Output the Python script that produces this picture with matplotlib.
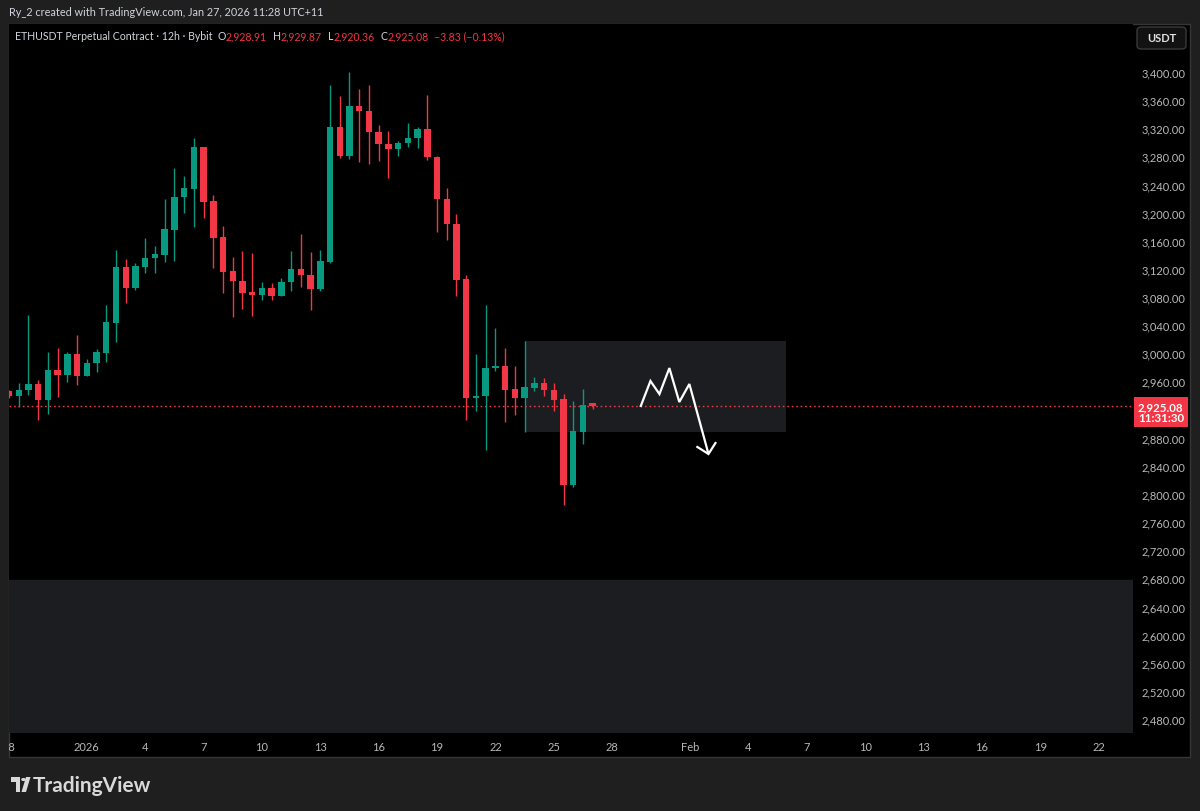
# ETHUSDT 12h (Bybit) - recreación de la captura de TradingView
import pandas as pd
import matplotlib
matplotlib.use('Agg')
import matplotlib.pyplot as plt
from matplotlib.patches import Rectangle, FancyBboxPatch, Polygon, Circle
from matplotlib.transforms import Bbox

plt.rcParams['font.family'] = ['Lato', 'DejaVu Sans']

W, H = 1200, 812

# Datos: velas de 12h (desde el 28 dic 2025)
fechas = pd.date_range('2025-12-28 00:00', periods=61, freq='12h')
apertura = [2946, 2939, 2948, 2956, 2934, 2976, 2969, 2999, 2968, 2986,
            3001, 3043, 3123, 3093, 3123, 3135, 3140, 3176, 3222, 3234,
            3293, 3216, 3165, 3117, 3103, 3087, 3083, 3093, 3082, 3101,
            3120, 3111, 3091, 3130, 3322, 3281, 3352, 3345, 3315, 3298,
            3290, 3299, 3306, 3319, 3279, 3220, 3184, 3105, 2936, 2939,
            2979, 2982, 2949, 2936, 2951, 2958, 2948, 2935, 2813, 2888, 2928.91]
maximo = [2948, 2958, 3054, 2962, 3002, 3007, 3002, 3026, 2992, 3006,
          3069, 3147, 3134, 3128, 3164, 3153, 3219, 3263, 3252, 3306,
          3294, 3225, 3181, 3137, 3145, 3143, 3101, 3100, 3107, 3145,
          3170, 3144, 3147, 3381, 3366, 3400, 3376, 3381, 3325, 3316,
          3302, 3327, 3322, 3367, 3281, 3235, 3198, 3111, 2999, 3069,
          3036, 3007, 2982, 3018, 2966, 2965, 2958, 2942, 2932, 2949, 2929.87]
minimo = [2937, 2924, 2941, 2905, 2914, 2938, 2959, 2955, 2967, 2973,
          2988, 3016, 3071, 3090, 3114, 3114, 3130, 3131, 3199, 3180,
          3192, 3121, 3086, 3052, 3063, 3053, 3076, 3076, 3081, 3089,
          3094, 3062, 3089, 3129, 3278, 3276, 3272, 3269, 3273, 3249,
          3281, 3293, 3292, 3275, 3172, 3161, 3081, 2905, 2918, 2862,
          2975, 2902, 2912, 2888, 2946, 2939, 2918, 2784, 2810, 2871, 2920.36]
cierre = [2939, 2948, 2956, 2934, 2976, 2969, 2999, 2968, 2986, 3002,
          3044, 3123, 3093, 3124, 3135, 3141, 3177, 3222, 3235, 3293,
          3215, 3164, 3116, 3103, 3086, 3083, 3093, 3082, 3101, 3120,
          3111, 3091, 3131, 3322, 3281, 3352, 3345, 3315, 3298, 3290,
          3299, 3306, 3319, 3279, 3219, 3184, 3104, 2936, 2939, 2979,
          2982, 2948, 2936, 2952, 2958, 2948, 2934, 2813, 2890, 2927, 2925.08]

# Etiquetas del eje de tiempo
fechas_ticks = pd.to_datetime(['2025-12-28', '2026-01-01', '2026-01-04', '2026-01-07',
                               '2026-01-10', '2026-01-13', '2026-01-16', '2026-01-19',
                               '2026-01-22', '2026-01-25', '2026-01-28', '2026-02-01',
                               '2026-02-04', '2026-02-07', '2026-02-10', '2026-02-13',
                               '2026-02-16', '2026-02-19', '2026-02-22'])
textos_ticks = ['28', '2026', '4', '7', '10', '13', '16', '19', '22', '25', '28',
                'Feb', '4', '7', '10', '13', '16', '19', '22']
precios_ticks = list(range(2480, 3401, 40))

# Dibujo a mano alzada (zigzag con flecha) en fechas / precios
zig_fechas = pd.to_datetime(['2026-01-29 10:50', '2026-01-29 23:15', '2026-01-30 10:20',
                             '2026-01-30 22:35', '2026-01-31 10:50', '2026-01-31 23:15',
                             '2026-02-01 22:50'])
zig_precios = [2923.6, 2960.6, 2942, 2979, 2930.7, 2956.3, 2856.8]
punta_fechas = pd.to_datetime(['2026-02-01 09:05', '2026-02-01 22:50', '2026-02-02 07:25'])
punta_precios = [2866.8, 2856.8, 2872.4]
fin_zona = pd.Timestamp('2026-02-05 23:00')
techo_zona_baja = 2678

VERDE = '#089981'
ROJO = '#f23645'
GRIS_TXT = '#b8b8b8'
ORIGEN = pd.Timestamp('2026-01-01')


def a_dias(f):
    return (pd.DatetimeIndex(f) - ORIGEN) / pd.Timedelta('1D')


def fx(px):
    return px / W


def fy(py):
    return 1 - py / H


fig = plt.figure(figsize=(12, 8.12), dpi=100, facecolor='#1f1f1f')

# panel negro del gráfico
panel = Rectangle((fx(9), fy(758)), (1190 - 9) / W, (758 - 24.5) / H,
                  transform=fig.transFigure, fc='black', ec='#363636', lw=1, zorder=-1)
fig.patches.append(panel)

ax = fig.add_axes([fx(9), fy(734), (1133 - 9) / W, (734 - 25) / H])
ax.set_facecolor('black')
for s in ax.spines.values():
    s.set_visible(False)

x = a_dias(fechas)
x_ticks = a_dias(fechas_ticks)

# zonas dibujadas
i_zona = 53
ax.add_patch(Rectangle((x[i_zona], minimo[i_zona]), a_dias([fin_zona])[0] - x[i_zona],
                       maximo[i_zona] - minimo[i_zona], fc='#1c1d20', ec='none', zorder=1))
ax.axhspan(2300, techo_zona_baja, color='#1c1d20', zorder=1)

# línea de precio actual
ax.axhline(cierre[-1], color=ROJO, lw=1, ls=(0, (1.2, 2)), zorder=2)

# velas
colores = [VERDE if c >= o else ROJO for o, c in zip(apertura, cierre)]
ax.vlines(x, minimo, maximo, colors=colores, lw=1, zorder=3)
bases = [min(o, c) for o, c in zip(apertura, cierre)]
altos = [max(abs(c - o), 2.0) for o, c in zip(apertura, cierre)]
ax.bar(x, altos, bottom=bases, width=0.33, color=colores, lw=0, zorder=4)

# zigzag blanco
ax.plot(a_dias(zig_fechas), zig_precios, color='white', lw=1.6, zorder=5,
        solid_joinstyle='miter', solid_capstyle='butt')
ax.plot(a_dias(punta_fechas), punta_precios, color='white', lw=1.6, zorder=5,
        solid_joinstyle='miter')

ax.set_xlim(-3.955, 53.77)
ax.set_ylim(2460, 3468.3)

ax.set_xticks(x_ticks)
ax.set_xticklabels(textos_ticks)
ax.yaxis.tick_right()
ax.set_yticks(precios_ticks)
# TradingView oculta la etiqueta que queda bajo el precio actual
ax.set_yticklabels(['' if abs(p - cierre[-1]) < 20 else f'{p:,.2f}' for p in precios_ticks])
ax.tick_params(axis='x', length=0, pad=6, labelcolor=GRIS_TXT, labelsize=8)
ax.tick_params(axis='y', length=0, pad=6, labelcolor=GRIS_TXT, labelsize=8)
recorte = Bbox.from_extents(9, 0, 1190, H)
for t in ax.get_xticklabels():
    t.set_clip_on(True)
    t.set_clip_box(recorte)

# etiqueta del precio actual
ax.annotate(f'{cierre[-1]:,.2f}\n11:31:30', xy=(1.0, cierre[-1]),
            xycoords=('axes fraction', 'data'), xytext=(5, 5), textcoords='offset pixels',
            ha='left', va='top', color='white', fontsize=8.3, fontweight='bold',
            linespacing=1.05, annotation_clip=False, zorder=10,
            bbox=dict(boxstyle='square,pad=0.32', fc=ROJO, ec='none'))

# cabecera
fig.text(fx(9), fy(12), 'Ry_2 created with TradingView.com, Jan 27, 2026 11:28 UTC+11',
         color='#d1d4dc', fontsize=7.8, va='center', ha='left')

# leyenda OHLC por tramos
renderer = fig.canvas.get_renderer()
tramos = [('ETHUSDT Perpetual Contract · 12h · Bybit', '#d1d4dc', 5),
          ('O', '#d1d4dc', 0), (f'{apertura[-1]:,.2f}', ROJO, 6),
          ('H', '#d1d4dc', 0), (f'{maximo[-1]:,.2f}', ROJO, 6),
          ('L', '#d1d4dc', 0), (f'{minimo[-1]:,.2f}', ROJO, 6),
          ('C', '#d1d4dc', 0), (f'{cierre[-1]:,.2f}', ROJO, 5),
          ('−3.83 (−0.13%)', ROJO, 0)]
px = 15
for texto, color, hueco in tramos:
    t = fig.text(fx(px), fy(37), texto, color=color, fontsize=7.6, va='center', ha='left')
    px += t.get_window_extent(renderer).width + hueco

# botón USDT
fig.patches.append(FancyBboxPatch((fx(1137), fy(50)), (1186 - 1137) / W, (50 - 28) / H,
                                  boxstyle='round,pad=0,rounding_size=0.004',
                                  transform=fig.transFigure, fc='#121212', ec='#3a3a3a', lw=1))
fig.text(fx(1161.5), fy(39), 'USDT', color='#e0e0e0', fontsize=8, ha='center', va='center',
         fontweight='bold')

# logo TradingView
gris_logo = '#d9d9d9'
fig.patches.append(Polygon([(fx(11), fy(778)), (fx(20), fy(778)), (fx(20), fy(793)),
                            (fx(15.5), fy(793)), (fx(15.5), fy(782.5)), (fx(11), fy(782.5))],
                           closed=True, transform=fig.transFigure, fc=gris_logo, ec='none'))
fig.patches.append(Circle((fx(23.5), fy(780.5)), 2.3 / W, transform=fig.transFigure,
                          fc=gris_logo, ec='none'))
fig.patches.append(Polygon([(fx(26), fy(778)), (fx(30.5), fy(778)), (fx(26), fy(793)),
                            (fx(21.5), fy(793))],
                           closed=True, transform=fig.transFigure, fc=gris_logo, ec='none'))
fig.text(fx(33), fy(786), 'TradingView', color=gris_logo, fontsize=15, fontweight='bold',
         ha='left', va='center')

fig.savefig('out.png', dpi=100, facecolor=fig.get_facecolor())
